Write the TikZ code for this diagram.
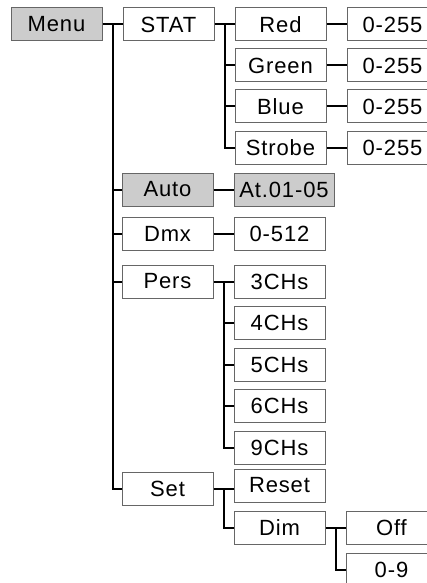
\documentclass[tikz,border=0pt]{standalone}
\usepackage{fontspec}
\setmainfont{Liberation Sans}[LetterSpace=4]
\usetikzlibrary{positioning}
\usetikzlibrary{calc}
\tikzset{
  x = 1pt, y = 1pt, node distance = 20pt,
  item/.style = {rectangle, draw = black!60, line width = 1pt, fill = white,
    minimum width = 91pt, minimum height = 33pt, inner sep = 0pt,
    font = \fontsize{22}{26}\selectfont},
  active/.style = {item, fill = black!20},
  link/.style = {line width = 2pt},
}
\begin{document}
\begin{tikzpicture}
  \useasboundingbox (0,0) rectangle (427,-583);
  % nodes
  \node [active] (menu) at (56.5,-24.5) {Menu};
  \node [item, right = of menu] (stat) {STAT};
  \node [item, right = of stat] (red) {Red};
  \node [item, right = of red] (redv) {0-255};
  \node [item, below = 7pt of red] (green) {Green};
  \node [item, right = of green] (greenv) {0-255};
  \node [item, below = 7pt of green] (blue) {Blue};
  \node [item, right = of blue] (bluev) {0-255};
  \node [item, below = 7pt of blue] (strobe) {Strobe};
  \node [item, right = of strobe] (strobev) {0-255};
  \node [active] (auto) at (167.5,-189.5) {Auto};
  \node [active, right = of auto, minimum width = 100pt] (autov) {At.01-05};
  \node [item] (dmx) at (167.5,-233.5) {Dmx};
  \node [item, right = of dmx] (dmxv) {0-512};
  \node [item] (pers) at (167.5,-281.5) {Pers};
  \node [item, right = of pers] (ch3) {3CHs};
  \node [item, below = 7.5pt of ch3] (ch4) {4CHs};
  \node [item, below = 7.5pt of ch4] (ch5) {5CHs};
  \node [item, below = 7.5pt of ch5] (ch6) {6CHs};
  \node [item, below = 7.5pt of ch6] (ch9) {9CHs};
  \node [item] (set) at (167.5,-488.5) {Set};
  \node [item, right = of set, yshift = 3pt] (reset) {Reset};
  \node [item, below = 8.5pt of reset] (dim) {Dim};
  \node [item, right = of dim] (off) {Off};
  \node [item, below = 8pt of off] (dimv) {0-9};
  % joints
  \coordinate (mj) at ($(menu.east)!.5!(stat.west)$);
  \coordinate (sj) at ($(stat.east)!.5!(red.west)$);
  \coordinate (pj) at ($(pers.east)!.5!(ch3.west)$);
  \coordinate (ej) at ($(set.east)!.5!(set.east -| reset.west)$);
  \coordinate (dj) at ($(dim.east)!.5!(off.west)$);
  % edges
  \draw [link] (menu) -- (stat);
  \draw [link] (mj) |- (set.west);
  \foreach \n in {auto, dmx, pers}
    \draw [link] (mj |- \n) -- (\n.west);
  \draw [link] (stat) -- (red);
  \draw [link] (sj) |- (strobe.west);
  \foreach \n in {green, blue}
    \draw [link] (sj |- \n) -- (\n.west);
  \draw [link] (red) -- (redv);
  \draw [link] (green) -- (greenv);
  \draw [link] (blue) -- (bluev);
  \draw [link] (strobe) -- (strobev);
  \draw [link] (auto) -- (autov);
  \draw [link] (dmx) -- (dmxv);
  \draw [link] (pers) -- (ch3);
  \draw [link] (pj) |- (ch9.west);
  \foreach \n in {ch4, ch5, ch6}
    \draw [link] (pj |- \n) -- (\n.west);
  \draw [link] (set.east) -- (set.east -| reset.west);
  \draw [link] (ej) |- (dim.west);
  \draw [link] (dim) -- (off);
  \draw [link] (dj) |- (dimv.west);
\end{tikzpicture}
\end{document}
